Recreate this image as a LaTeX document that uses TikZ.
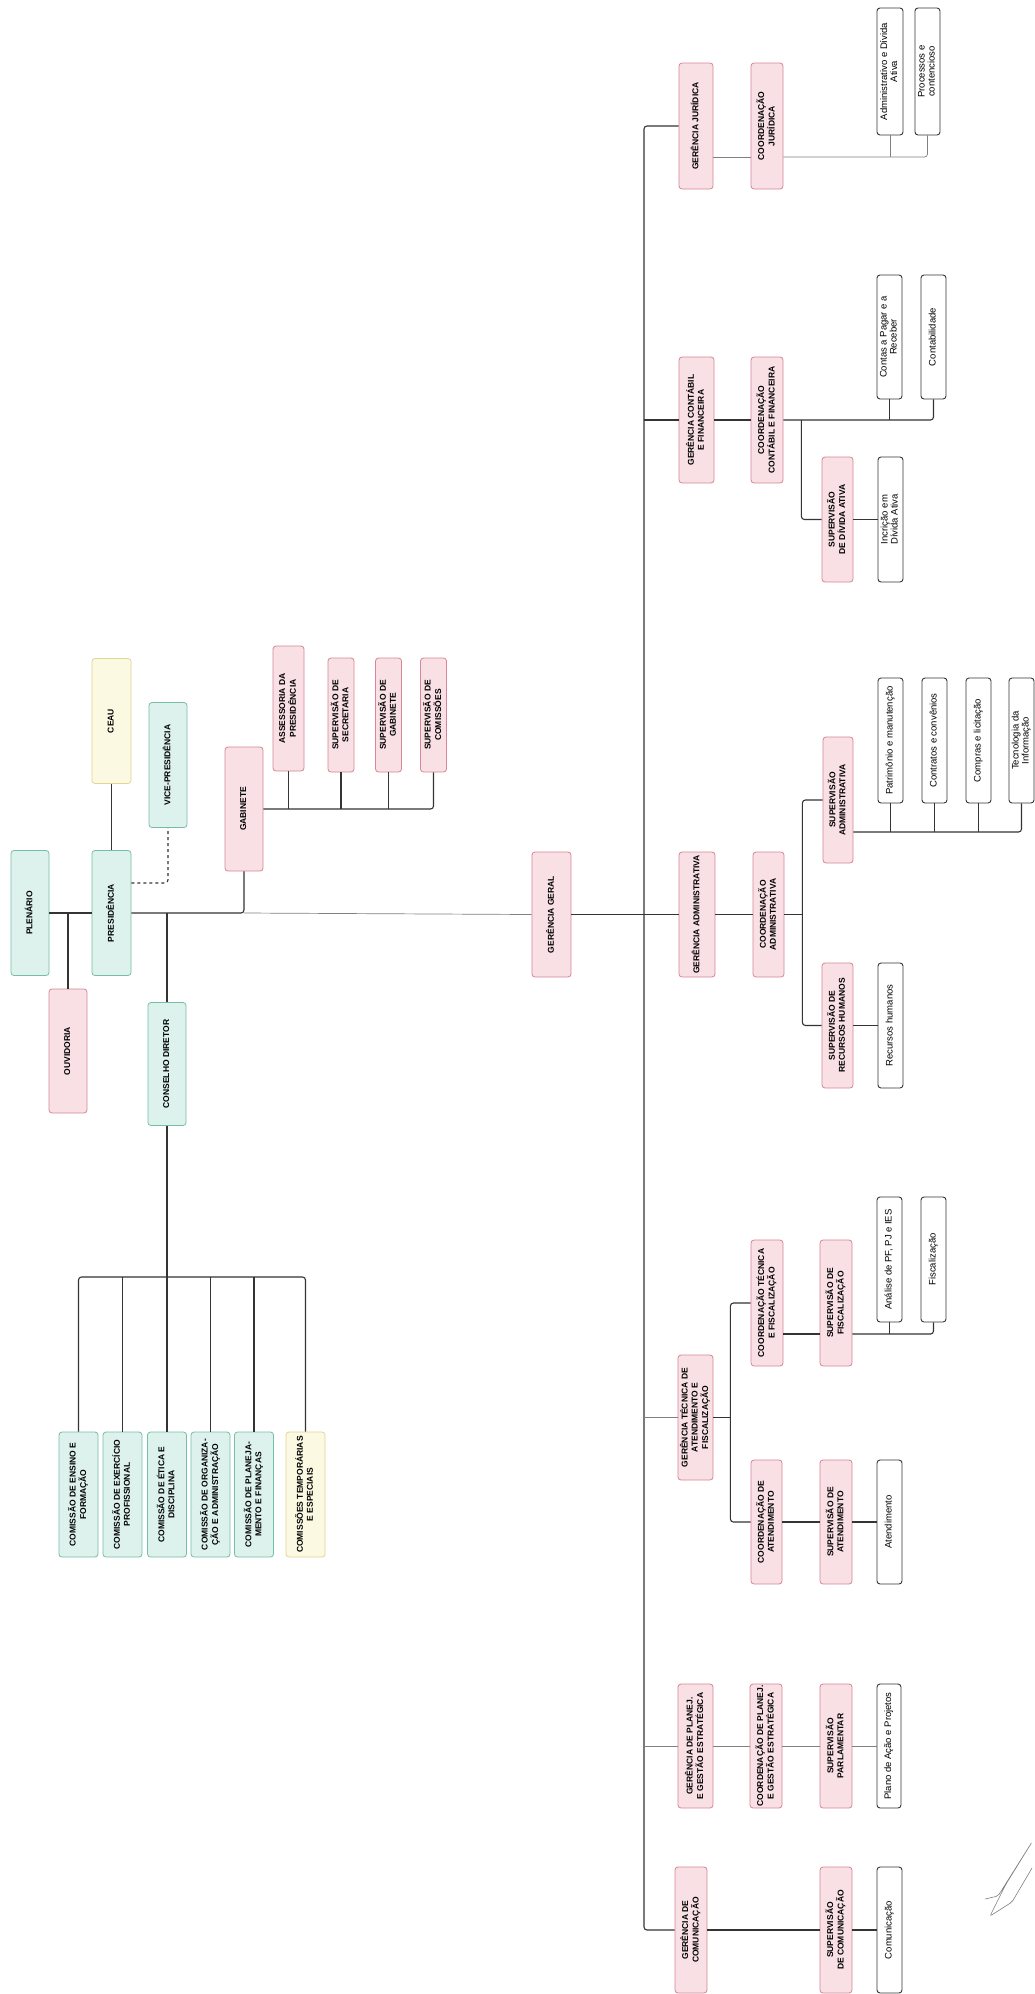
\documentclass[tikz,border=0pt]{standalone}
\usepackage{fontspec}
\setmainfont{Liberation Sans}
\usepackage{graphicx}
\usepackage{tikz}
\usetikzlibrary{calc,positioning}
\usepackage{xcolor}
\definecolor{verdefundo}{RGB}{221,242,236}
\definecolor{verdeborda}{RGB}{118,190,166}
\definecolor{rosafundo}{RGB}{248,224,229}
\definecolor{rosaborda}{RGB}{214,134,150}
\definecolor{amarelofundo}{RGB}{252,249,227}
\definecolor{amareloborda}{RGB}{224,214,146}
\definecolor{linhaescura}{RGB}{52,52,52}
\definecolor{linhaclara}{RGB}{128,128,128}
\newcommand{\vtexto}[1]{\rotatebox{90}{\begin{tabular}{@{}c@{}}#1\end{tabular}}}

\begin{document}
\begin{tikzpicture}[x=1pt, y=-1pt,
  caixa/.style={draw, rounded corners=3pt, line width=0.8pt, inner sep=1pt, minimum height=125pt},
  verde/.style={caixa, fill=verdefundo, draw=verdeborda, minimum width=38pt, font=\bfseries\fontsize{8.5}{10}\selectfont},
  amarelo/.style={caixa, fill=amarelofundo, draw=amareloborda, minimum width=38pt, font=\bfseries\fontsize{8.5}{10}\selectfont},
  rosa/.style={caixa, fill=rosafundo, draw=rosaborda, minimum width=32pt, font=\bfseries\fontsize{8.5}{10}\selectfont},
  branca/.style={caixa, fill=white, draw=linhaescura, line width=0.9pt, minimum width=25pt, font=\fontsize{9.5}{10}\selectfont},
  linha/.style={draw=linhaescura, line width=1.1pt, rounded corners=3pt},
  linhafina/.style={draw=linhaclara, line width=0.7pt, rounded corners=3pt}]
  \fill[white] (0,0) rectangle (1034,1994);
  \useasboundingbox (0,0) rectangle (1034,1994);

  % plenario, presidencia, conselho
  \node[verde] (plenario) at (30,913) {\vtexto{PLENÁRIO}};
  \node[verde, minimum width=39pt] (presidencia) at (111.5,913) {\vtexto{PRESIDÊNCIA}};
  \node[amarelo, minimum width=39pt] (ceau) at (111.5,721) {\vtexto{CEAU}};
  \node[verde] (vice) at (168,765) {\vtexto{VICE-PRESIDÊNCIA}};
  \node[rosa, minimum width=38pt, minimum height=124pt] (ouvidoria) at (68,1051) {\vtexto{OUVIDORIA}};
  \node[verde, minimum height=123pt] (conselho) at (167,1064) {\vtexto{CONSELHO DIRETOR}};
  \node[rosa, minimum width=38pt, minimum height=124pt] (gabinete) at (244,809) {\vtexto{GABINETE}};
  \node[rosa, minimum width=31pt] (assessoria) at (288.5,708.5) {\vtexto{ASSESSORIA DA\\PRESIDÊNCIA}};
  \node[rosa, minimum width=26pt, minimum height=114pt] (supsecretaria) at (341,715) {\vtexto{SUPERVISÃO DE\\SECRETARIA}};
  \node[rosa, minimum width=26pt, minimum height=114pt] (supgabinete) at (388.5,715) {\vtexto{SUPERVISÃO DE\\GABINETE}};
  \node[rosa, minimum width=26pt, minimum height=114pt] (supcomissoes) at (433.5,715) {\vtexto{SUPERVISÃO DE\\COMISSÕES}};

  % comissoes
  \node[verde, minimum width=39pt] (ensino) at (78.5,1494.5) {\vtexto{COMISSÃO DE ENSINO E\\FORMAÇÃO}};
  \node[verde, minimum width=39pt] (exercicio) at (122.5,1494.5) {\vtexto{COMISSÃO DE EXERCÍCIO\\PROFISSIONAL}};
  \node[verde, minimum width=39pt] (etica) at (167,1494.5) {\vtexto{COMISSÃO DE ÉTICA E\\DISCIPLINA}};
  \node[verde, minimum width=39pt] (organizacao) at (210.5,1494.5) {\vtexto{COMISSÃO DE ORGANIZA-\\ÇÃO E ADMINISTRAÇÃO}};
  \node[verde, minimum width=39pt] (planejamento) at (254,1494.5) {\vtexto{COMISSÃO DE PLANEJA-\\MENTO E FINANÇAS}};
  \node[amarelo, minimum width=39pt] (temporarias) at (305.5,1494.5) {\vtexto{COMISSÕES TEMPORÁRIAS\\E ESPECIAIS}};

  \node[rosa, minimum width=39pt] (gergeral) at (551.5,914.5) {\vtexto{GERÊNCIA GERAL}};

  % juridica
  \node[rosa, minimum width=34pt, minimum height=126pt] (gerjur) at (696,126) {\vtexto{GERÊNCIA JURÍDICA}};
  \node[rosa, minimum height=126pt] (coordjur) at (767,126) {\vtexto{COORDENAÇÃO\\JURÍDICA}};
  \node[branca, minimum width=26pt, minimum height=127pt] (admdivida) at (890,71.5) {\vtexto{Administrativo e Dívida\\Ativa}};
  \node[branca, minimum height=127pt] (processos) at (927.5,71.5) {\vtexto{Processos e\\contencioso}};

  % contabil
  \node[rosa, minimum width=35pt, minimum height=126pt] (gercont) at (696.5,420) {\vtexto{GERÊNCIA CONTÁBIL\\E FINANCEIRA}};
  \node[rosa, minimum height=126pt] (coordcont) at (767,420) {\vtexto{COORDENAÇÃO\\CONTÁBIL E FINANCEIRA}};
  \node[branca, minimum height=124pt] (contas) at (889.5,337) {\vtexto{Contas a Pagar e a\\Receber}};
  \node[branca, minimum height=124pt] (contabilidade) at (933.5,337) {\vtexto{Contabilidade}};
  \node[rosa, minimum width=31pt] (supdivida) at (837.5,519.5) {\vtexto{SUPERVISÃO\\DE DÍVIDA ATIVA}};
  \node[branca] (inscricao) at (890.5,519.5) {\vtexto{Incrição em\\Dívida Ativa}};

  % administrativa
  \node[rosa, minimum width=36pt] (geradm) at (697,914.5) {\vtexto{GERÊNCIA ADMINISTRATIVA}};
  \node[rosa, minimum width=31pt] (coordadm) at (768.5,914.5) {\vtexto{COORDENAÇÃO\\ADMINISTRATIVA}};
  \node[rosa, minimum width=30pt, minimum height=126pt] (supadm) at (838,800) {\vtexto{SUPERVISÃO\\ADMINISTRATIVA}};
  \node[rosa, minimum width=31pt] (suprh) at (837.5,1025.5) {\vtexto{SUPERVISÃO DE\\RECURSOS HUMANOS}};
  \node[branca] (rh) at (890.5,1025.5) {\vtexto{Recursos humanos}};
  \node[branca] (patrimonio) at (890.5,740.5) {\vtexto{Patrimônio e manutenção}};
  \node[branca] (contratos) at (934.5,740.5) {\vtexto{Contratos e convênios}};
  \node[branca] (compras) at (978.5,740.5) {\vtexto{Compras e licitação}};
  \node[branca] (ti) at (1021.5,740.5) {\vtexto{Tecnologia da\\Informação}};

  % tecnica
  \node[rosa, minimum width=35pt] (gertec) at (695.5,1417.5) {\vtexto{GERÊNCIA TÉCNICA DE\\ATENDIMENTO E\\FISCALIZAÇÃO}};
  \node[rosa, minimum height=126pt] (coordtec) at (767,1303) {\vtexto{COORDENAÇÃO TÉCNICA\\E FISCALIZAÇÃO}};
  \node[rosa, minimum height=126pt] (supfisc) at (836,1303) {\vtexto{SUPERVISÃO DE\\FISCALIZAÇÃO}};
  \node[branca] (analise) at (889.5,1259.5) {\vtexto{Análise de PF, PJ e IES}};
  \node[branca] (fiscalizacao) at (933.5,1259.5) {\vtexto{Fiscalização}};
  \node[rosa, minimum width=31pt, minimum height=124pt] (coordatend) at (766.5,1522) {\vtexto{COORDENAÇÃO DE\\ATENDIMENTO}};
  \node[rosa, minimum height=124pt] (supatend) at (836,1522) {\vtexto{SUPERVISÃO DE\\ATENDIMENTO}};
  \node[branca, minimum height=124pt] (atendimento) at (889.5,1522) {\vtexto{Atendimento}};

  % planejamento
  \node[rosa, minimum width=35pt, minimum height=124pt] (gerplan) at (695.5,1746) {\vtexto{GERÊNCIA DE PLANEJ.\\E GESTÃO ESTRATÉGICA}};
  \node[rosa, minimum height=124pt] (coordplan) at (766,1746) {\vtexto{COORDENAÇÃO DE PLANEJ.\\E GESTÃO ESTRATÉGICA}};
  \node[rosa, minimum height=124pt] (supparl) at (836,1746) {\vtexto{SUPERVISÃO\\PARLAMENTAR}};
  \node[branca, minimum width=24pt, minimum height=124pt] (plano) at (889,1746) {\vtexto{Plano de Ação e Projetos}};

  % comunicacao
  \node[rosa, minimum height=126pt] (gercom) at (691,1930) {\vtexto{GERÊNCIA DE\\COMUNICAÇÃO}};
  \node[rosa, minimum height=126pt] (supcom) at (836,1930) {\vtexto{SUPERVISÃO\\DE COMUNICAÇÃO}};
  \node[branca, minimum height=126pt] (comunicacao) at (889.5,1930) {\vtexto{Comunicação}};

  % ligacoes da presidencia
  \draw[linha] (plenario) -- (presidencia);
  \draw[linha] (ouvidoria.north) -- (ouvidoria.north |- plenario.east);
  \draw[linha] (presidencia) -- (ceau);
  \draw[linha, dashed, dash pattern=on 3pt off 3pt] ($(presidencia.east)+(0,-30)$) -| (vice.south);
  \draw[linha] (presidencia.east) -| (gabinete.south);
  \draw[linha] (conselho.north) -- (conselho.north |- presidencia.east);
  \draw[linhafina] (gabinete.south |- presidencia.east) -- (gergeral.west);
  \draw[linha] (gabinete.east) -| (supcomissoes.south);
  \draw[linha] (assessoria.south) -- (assessoria.south |- gabinete.east);
  \draw[linha] (supsecretaria.south) -- (supsecretaria.south |- gabinete.east);
  \draw[linha] (supgabinete.south) -- (supgabinete.south |- gabinete.east);

  % comissoes
  \coordinate (barracom) at (167,1277);
  \draw[linha] (conselho.south) -- (barracom);
  \draw[linha] (ensino.north) |- (barracom) -| (temporarias.north);
  \draw[linha] (exercicio.north) -- (exercicio.north |- barracom);
  \draw[linha] (etica.north) -- (barracom);
  \draw[linha] (organizacao.north) -- (organizacao.north |- barracom);
  \draw[linha] (planejamento.north) -- (planejamento.north |- barracom);

  % tronco das gerencias
  \coordinate (tronco) at (644,914.5);
  \draw[linha] (gergeral.east) -- (tronco);
  \draw[linha] (gerjur.west) -| (tronco) |- (gercom.west);
  \draw[linha] (gercont.west) -- (gercont.west -| tronco);
  \draw[linha] (geradm.west) -- (tronco);
  \draw[linhafina] (gertec.west) -- (gertec.west -| tronco);
  \draw[linhafina] (gerplan.west) -- (gerplan.west -| tronco);

  % juridica
  \coordinate (barrajur) at ($(coordjur.east)+(0,31)$);
  \draw[linhafina] ($(gerjur.east)+(0,31)$) -- ($(coordjur.west)+(0,31)$);
  \draw[linhafina] (barrajur) -| (processos.south);
  \draw[linhafina] (admdivida.south) -- (admdivida.south |- barrajur);

  % contabil
  \draw[linha] (gercont) -- (coordcont);
  \draw[linha] (coordcont.east) -| (contabilidade.south);
  \draw[linha] (contas.south) -- (contas.south |- coordcont.east);
  \coordinate (garfocont) at ($(coordcont.east)+(18,0)$);
  \draw[linha] (garfocont) |- (supdivida.west);
  \draw[linha] (supdivida) -- (inscricao);

  % administrativa
  \draw[linha] (geradm) -- (coordadm);
  \coordinate (garfoadm) at ($(coordadm.east)+(18,0)$);
  \draw[linha] (coordadm.east) -- (garfoadm);
  \draw[linha] (supadm.west) -| (garfoadm) |- (suprh.west);
  \draw[linha] (suprh) -- (rh);
  \coordinate (barraadm) at ($(supadm.east)+(0,32)$);
  \draw[linha] (barraadm) -| (ti.south);
  \draw[linha] (patrimonio.south) -- (patrimonio.south |- barraadm);
  \draw[linha] (contratos.south) -- (contratos.south |- barraadm);
  \draw[linha] (compras.south) -- (compras.south |- barraadm);

  % tecnica
  \coordinate (garfotec) at ($(gertec.east)+(17,0)$);
  \draw[linha] (gertec.east) -- (garfotec);
  \draw[linha] (coordtec.west) -| (garfotec) |- (coordatend.west);
  \coordinate (barratec) at ($(supfisc.east)+(0,31)$);
  \draw[linha] ($(coordtec.east)+(0,31)$) -- ($(supfisc.west)+(0,31)$);
  \draw[linha] (barratec) -| (fiscalizacao.south);
  \draw[linha] (analise.south) -- (analise.south |- barratec);
  \draw[linha] (coordatend) -- (supatend);
  \draw[linha] (supatend) -- (atendimento);

  % planejamento e comunicacao
  \draw[linhafina] (gerplan) -- (coordplan);
  \draw[linhafina] (coordplan) -- (supparl);
  \draw[linhafina] (supparl) -- (plano);
  \draw[linha] (gercom) -- (supcom);
  \draw[linha] (supcom) -- (comunicacao);

  % rubrica
  \draw[linhaclara, line width=0.6pt, rounded corners=2pt] (985,1899) -- (998,1896) -- (1032,1842) -- (1006,1884) -- (990,1916) -- (1012,1902) -- (1032,1868);
\end{tikzpicture}
\end{document}
